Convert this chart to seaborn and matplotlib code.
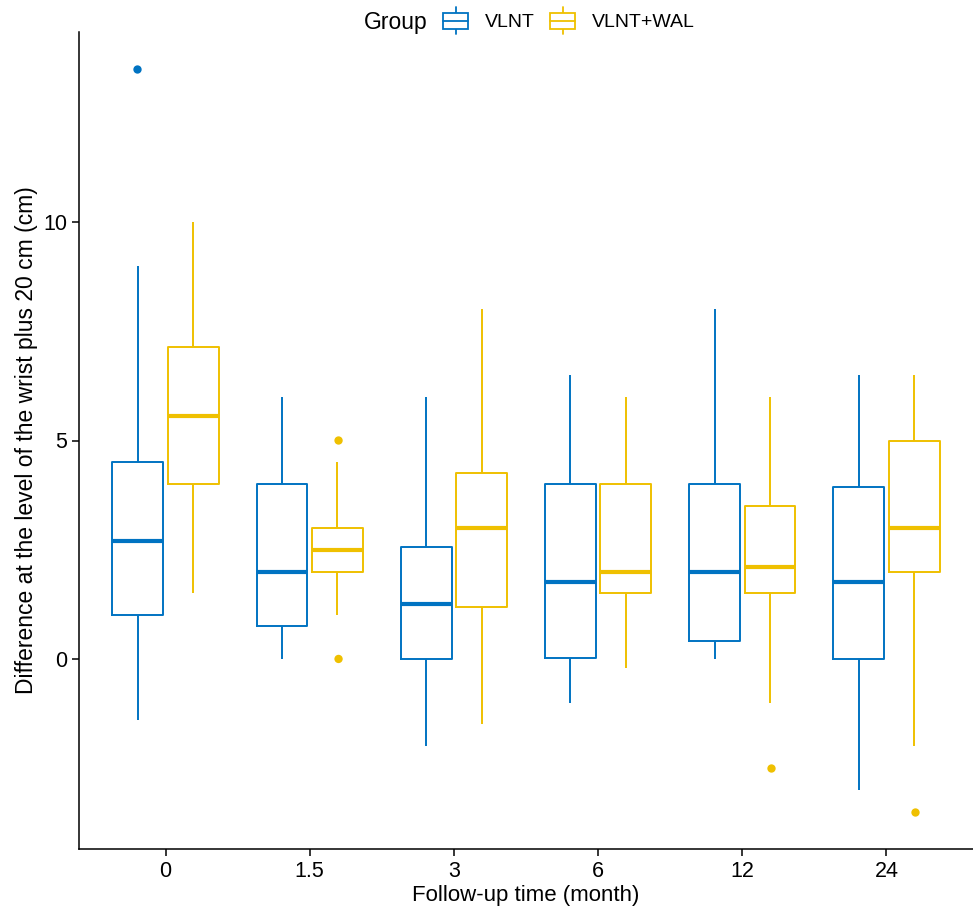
"""Boxplot: wrist difference by follow-up time, VLNT vs VLNT+WAL"""

import pandas as pd
import matplotlib
matplotlib.use("Agg")
import matplotlib.pyplot as plt
from matplotlib.legend_handler import HandlerBase
from matplotlib.patches import Rectangle, Patch
from matplotlib.lines import Line2D
import seaborn as sns

TIMES = ["0", "1.5", "3", "6", "12", "24"]
GROUPS = ["VLNT", "VLNT+WAL"]
COLORS = ["#0073C2", "#EFC000"]

# five-number summaries (whisker low, Q1, median, Q3, whisker high)
VLNT_LOW = [-1.4, 0.0, -2.0, -1.0, 0.0, -3.0]
VLNT_Q1 = [1.0, 0.75, 0.0, 0.03, 0.4, 0.0]
VLNT_MED = [2.7, 2.0, 1.25, 1.75, 2.0, 1.75]
VLNT_Q3 = [4.5, 4.0, 2.57, 4.0, 4.0, 3.93]
VLNT_HIGH = [9.0, 6.0, 6.0, 6.5, 8.0, 6.5]

WAL_LOW = [1.5, 1.0, -1.5, -0.2, -1.0, -2.0]
WAL_Q1 = [4.0, 2.0, 1.2, 1.5, 1.5, 2.0]
WAL_MED = [5.57, 2.5, 3.0, 2.0, 2.1, 3.0]
WAL_Q3 = [7.14, 3.0, 4.25, 4.0, 3.5, 5.0]
WAL_HIGH = [10.0, 4.5, 8.0, 6.0, 6.0, 6.5]

# outlying points
OUT_TIME = ["0", "1.5", "1.5", "12", "24"]
OUT_GROUP = ["VLNT", "VLNT+WAL", "VLNT+WAL", "VLNT+WAL", "VLNT+WAL"]
OUT_VALUE = [13.5, 5.0, 0.0, -2.5, -3.5]


def build_frame():
    rows = []
    summaries = {
        "VLNT": (VLNT_LOW, VLNT_Q1, VLNT_MED, VLNT_Q3, VLNT_HIGH),
        "VLNT+WAL": (WAL_LOW, WAL_Q1, WAL_MED, WAL_Q3, WAL_HIGH),
    }
    for grp, stats in summaries.items():
        for i, t in enumerate(TIMES):
            for s in stats:
                rows.append({"time": t, "group": grp, "value": s[i]})
    return pd.DataFrame(rows)


class BoxKey(HandlerBase):
    """ggplot-like boxplot legend key"""

    def create_artists(self, legend, orig, xd, yd, width, height, fontsize, trans):
        c = orig.get_edgecolor()
        x0, y0 = -xd, -yd
        cx = x0 + width / 2
        box = Rectangle((x0, y0), width, height,
                        facecolor="white", edgecolor=c, lw=1.3, transform=trans)
        med = Line2D([x0, x0 + width], [y0 + 0.5 * height] * 2, color=c, lw=1.3, transform=trans)
        w1 = Line2D([cx, cx], [y0 - 0.33 * height, y0], color=c, lw=1.3, transform=trans)
        w2 = Line2D([cx, cx], [y0 + height, y0 + 1.33 * height], color=c, lw=1.3, transform=trans)
        return [w1, w2, box, med]


def plot():
    sns.set_theme(style="ticks")
    plt.rcParams["font.family"] = ["Liberation Sans", "DejaVu Sans"]
    plt.rcParams["text.color"] = "black"

    df = build_frame()
    out = pd.DataFrame({"time": OUT_TIME, "group": OUT_GROUP, "value": OUT_VALUE})

    fig = plt.figure(figsize=(9.73, 9.1), dpi=100)
    ax = fig.add_axes([79 / 973, 61 / 910, 1 - 79 / 973, (849 - 32) / 910])

    sns.boxplot(data=df, x="time", y="value", hue="group", order=TIMES, hue_order=GROUPS,
                palette=COLORS, fill=False, whis=(0, 100), width=0.77, gap=0.085,
                showcaps=False, linewidth=1.4, medianprops={"linewidth": 3},
                legend=False, ax=ax)
    sns.stripplot(data=out, x="time", y="value", hue="group", order=TIMES, hue_order=GROUPS,
                  palette=COLORS, dodge=True, jitter=False, size=6, linewidth=0,
                  legend=False, ax=ax)

    ax.set_xlim(-0.6, 5.6)
    ax.set_ylim(-4.35, 14.35)
    ax.set_yticks([0, 5, 10])
    ax.set_xlabel("Follow-up time (month)", fontsize=16, color="black", labelpad=2)
    ax.set_ylabel("Difference at the level of the wrist plus 20 cm (cm)", fontsize=16.5,
                  color="black", labelpad=4)
    ax.tick_params(axis="both", labelsize=15.5, colors="black", length=5, width=1.1)
    for side in ["left", "bottom"]:
        ax.spines[side].set_linewidth(1.1)
        ax.spines[side].set_color("black")
    sns.despine(ax=ax)

    handles = [Patch(edgecolor=c, facecolor="white") for c in COLORS]
    fig.text(428 / 973, 1 - 22 / 910, "Group", ha="right", va="center", fontsize=16.5)
    fig.legend(handles, GROUPS, handler_map={Patch: BoxKey()}, loc="center left",
               bbox_to_anchor=(443 / 973, 1 - 22 / 910), ncol=2, frameon=False,
               fontsize=14, handlelength=1.29, handleheight=0.93, handletextpad=0.88,
               columnspacing=0.77, borderpad=0, borderaxespad=0)

    fig.savefig("out.png", dpi=100)


if __name__ == "__main__":
    plot()
